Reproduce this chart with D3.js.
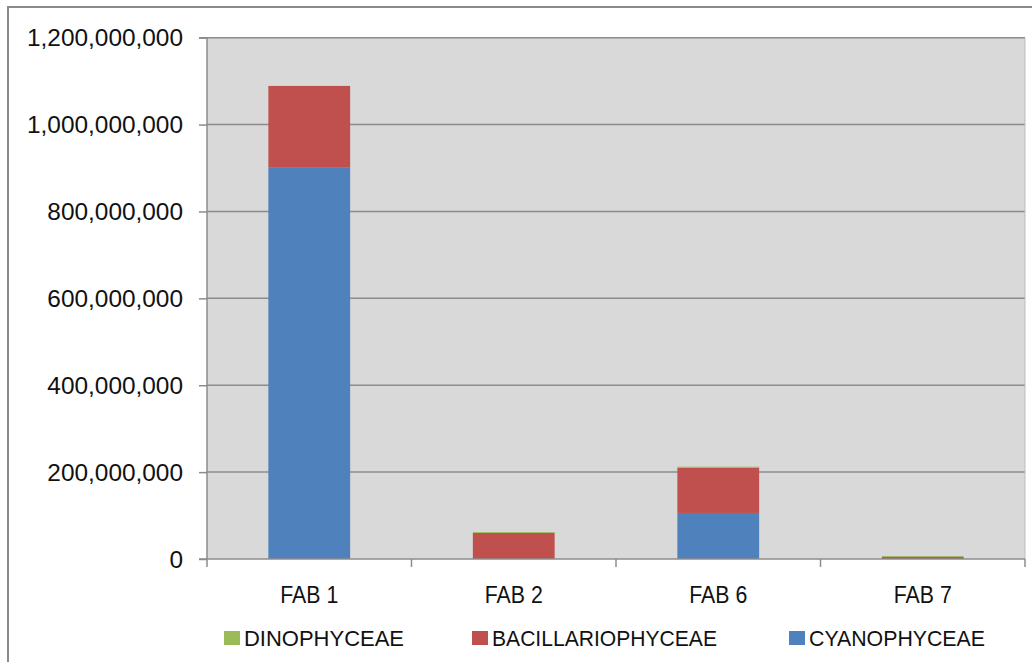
<!DOCTYPE html>
<html><head><meta charset="utf-8">
<script src="https://cdn.jsdelivr.net/npm/d3@7"></script>
<style>body{margin:0;background:#fff}svg{display:block}</style>
</head><body>
<script>
const categories = ["FAB 1", "FAB 2", "FAB 6", "FAB 7"];
const seriesNames = ["CYANOPHYCEAE", "BACILLARIOPHYCEAE", "DINOPHYCEAE"];
const cyanophyceae = [902000000, 0, 106000000, 0];
const bacillariophyceae = [187000000, 60000000, 104000000, 5000000];
const dinophyceae = [0, 2000000, 2500000, 2000000];
const yTicks = [0, 200000000, 400000000, 600000000, 800000000, 1000000000, 1200000000];
const colors = ["#4f81bd", "#c0504d", "#9bbb59"];

(function () {
const W = 1032, H = 662;
const svg = d3.select("body").append("svg").attr("width", W).attr("height", H);
const font = "'Liberation Sans', Arial, sans-serif";

// outer frame
svg.append("rect").attr("x", 8).attr("y", 7).attr("width", 1040).attr("height", 700)
  .attr("fill", "#fff").attr("stroke", "#8a8a8a").attr("stroke-width", 2);

const pL = 207, pR = 1025, pT = 37.7, pB = 559;
const x = d3.scaleBand().domain(categories).range([pL, pR]).paddingInner(0.6).paddingOuter(0.3);
const y = d3.scaleLinear().domain([0, 1200000000]).range([pB, pT]);

// plot area
svg.append("rect").attr("x", pL).attr("y", pT).attr("width", pR - pL).attr("height", pB - pT)
  .attr("fill", "#d9d9d9");

// gridlines
svg.append("g").selectAll("line").data(yTicks.filter(d => d > 0)).join("line")
  .attr("x1", pL).attr("x2", pR).attr("y1", d => y(d)).attr("y2", d => y(d))
  .attr("stroke", "#8c8c8c").attr("stroke-width", 1.5);
svg.append("line").attr("x1", pR).attr("x2", pR).attr("y1", pT).attr("y2", pB)
  .attr("stroke", "#bdbdbd").attr("stroke-width", 1);

// stacked bars
const rows = categories.map((c, i) => ({cat: c, CYANOPHYCEAE: cyanophyceae[i], BACILLARIOPHYCEAE: bacillariophyceae[i], DINOPHYCEAE: dinophyceae[i]}));
const stack = d3.stack().keys(seriesNames)(rows);
svg.append("g").selectAll("g").data(stack).join("g")
  .attr("fill", (d, i) => colors[i])
  .selectAll("rect").data(d => d).join("rect")
  .attr("x", d => x(d.data.cat)).attr("width", x.bandwidth())
  .attr("y", d => y(d[1])).attr("height", d => Math.max(0, y(d[0]) - y(d[1])));

// y axis
const yAxis = d3.axisLeft(y).tickValues(yTicks).tickSize(8).tickPadding(16)
  .tickFormat(d3.format(","));
const gy = svg.append("g").attr("transform", `translate(${pL},0)`).call(yAxis);
gy.select(".domain").attr("stroke", "#8c8c8c").attr("stroke-width", 1.5).attr("d", `M-8,${pT}H0V${pB}`);
gy.selectAll(".tick line").attr("stroke", "#8c8c8c").attr("stroke-width", 1.5);
gy.selectAll(".tick text").attr("font-family", font).attr("font-size", 24.4).attr("fill", "#111")
  .attr("dy", "0.34em");

// x axis
const gx = svg.append("g").attr("transform", `translate(0,${pB})`);
gx.append("line").attr("x1", pL - 8).attr("x2", pR).attr("y1", 0).attr("y2", 0)
  .attr("stroke", "#8c8c8c").attr("stroke-width", 1.5);
const bounds = categories.map((c, i) => pL + i * ((pR - pL) / categories.length));
bounds.push(pR);
gx.selectAll("line.t").data(bounds).join("line").attr("class", "t")
  .attr("x1", d => d).attr("x2", d => d).attr("y1", 0).attr("y2", 8)
  .attr("stroke", "#8c8c8c").attr("stroke-width", 1.5);
gx.selectAll("text").data(categories).join("text")
  .attr("x", d => x(d) + x.bandwidth() / 2).attr("y", 44)
  .attr("text-anchor", "middle").attr("font-family", font).attr("font-size", 24).attr("fill", "#111")
  .attr("textLength", 58).attr("lengthAdjust", "spacingAndGlyphs")
  .text(d => d);

// legend
const legendItems = [
  {name: "DINOPHYCEAE", color: colors[2], x: 224, w: 160},
  {name: "BACILLARIOPHYCEAE", color: colors[1], x: 472, w: 225},
  {name: "CYANOPHYCEAE", color: colors[0], x: 789, w: 176}
];
const lg = svg.append("g");
const li = lg.selectAll("g").data(legendItems).join("g").attr("transform", d => `translate(${d.x},631)`);
li.append("rect").attr("width", 16).attr("height", 14).attr("fill", d => d.color);
li.append("text").attr("x", 20).attr("y", 15).attr("font-family", font).attr("font-size", 22)
  .attr("fill", "#111").attr("textLength", d => d.w).attr("lengthAdjust", "spacingAndGlyphs")
  .text(d => d.name);
})();
</script>
</body></html>
